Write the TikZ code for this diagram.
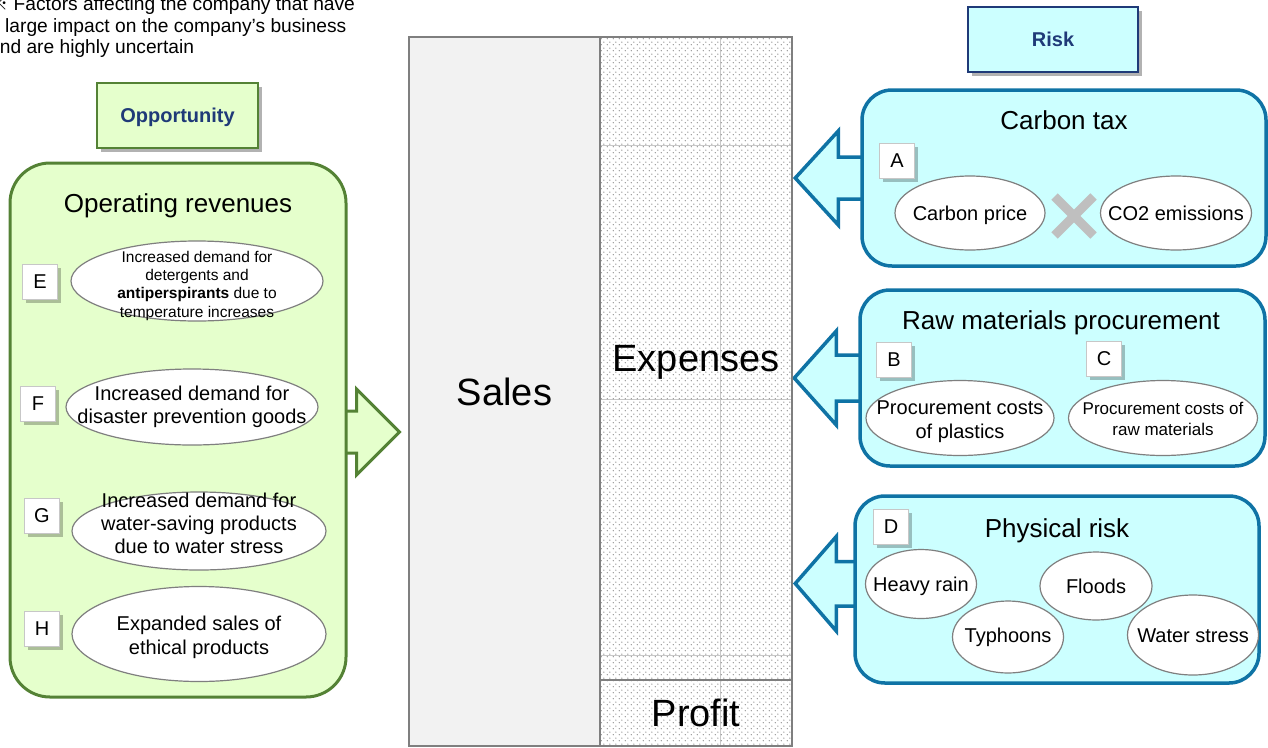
\documentclass[tikz,border=0pt]{standalone}
\usepackage{fontspec}
\setmainfont{Liberation Sans}
\newfontfamily\cjk{Noto Sans CJK JP}
\usepackage{tikz}
\usetikzlibrary{calc,positioning,shapes.geometric,shapes.misc,shadows,patterns.meta,backgrounds}

\definecolor{oppgreen}{HTML}{548235}
\definecolor{oppfill}{HTML}{E5FFCC}
\definecolor{riskblue}{HTML}{0F73A5}
\definecolor{riskfill}{HTML}{CCFFFF}
\definecolor{labelnavy}{HTML}{1F3A78}
\definecolor{colgray}{HTML}{7F7F7F}
\definecolor{gridgray}{HTML}{C8C8C8}
\definecolor{salesfill}{HTML}{F2F2F2}

\tikzdeclarepattern{
  name=expdots,
  type=uncolored,
  bottom left={(0pt,0pt)},
  top right={(6pt,6pt)},
  tile size={(6pt,6pt)},
  code={
    \fill (1.5pt,1.5pt) circle (0.75pt);
    \fill (4.5pt,4.5pt) circle (0.75pt);
  }
}

% text inside an ellipse, lowered by the optional amount
\newcommand{\bubbletext}[2][-8pt]{\makebox[0pt]{\smash{\raisebox{#1}{\begin{tabular}{@{}c@{}}#2\end{tabular}}}}}

\tikzset{
  fs/.style 2 args={font=\fontsize{#1}{#2}\selectfont},
  headbox/.style={rectangle, inner sep=0pt, minimum height=65pt, text=labelnavy, text depth=0pt,
    font=\bfseries\fontsize{20}{24}\selectfont,
    drop shadow={shadow xshift=4pt, shadow yshift=-4pt, fill=black, opacity=.3}},
  groupbox/.style={rectangle, rounded corners=#1, line width=3pt, inner sep=0pt},
  bubble/.style={ellipse, draw=colgray, line width=1.2pt, fill=white, inner sep=0pt},
  letterbox/.style={rectangle, draw=black!22, fill=white, line width=1pt, minimum size=35pt,
    inner sep=0pt, fs={20}{24},
    drop shadow={shadow xshift=3pt, shadow yshift=-3pt, fill=black, opacity=.25}},
  grouptitle/.style={fs={26}{31}, text depth=0pt},
  colbox/.style={rectangle, draw=colgray, line width=2.5pt, inner sep=0pt, fs={38}{45}},
  oppshape/.style={draw=oppgreen, fill=oppfill, line width=3pt, miter limit=10},
  riskshape/.style={draw=riskblue, fill=riskfill, line width=3.5pt, miter limit=10}
}

\begin{document}
\begin{tikzpicture}[x=1pt,y=-1pt]
  \useasboundingbox (0,0) rectangle (1268,747);

  % note in the corner
  \node (note) [anchor=west, align=left, inner sep=0pt, fs={19.2}{21.5}] at (-11,27)
    {{\cjk ※} Factors affecting the company that have\\a large impact on the company's business\\and are highly uncertain};

  % opportunity side
  \node (opp) [headbox, draw=oppgreen, fill=oppfill, line width=1.5pt, minimum width=161pt] at (177.5,115.5) {Opportunity};
  \node (oprev) [groupbox=40pt, draw=oppgreen, fill=oppfill, minimum width=336pt, minimum height=534pt] at (178,430) {};
  \node (oprevtitle) [grouptitle] at (178,203) {Operating revenues};

  \node (bubE) [bubble, minimum width=252pt, minimum height=80pt, fs={15.5}{18.3}] at (197,281)
    {\bubbletext[-8.5pt]{Increased demand for\\detergents and\\\textbf{antiperspirants} due to\\temperature increases}};
  \node (bubF) [bubble, minimum width=252pt, minimum height=76pt, fs={20}{23}] at (192,407)
    {\bubbletext[-6pt]{Increased demand for\\disaster prevention goods}};
  \node (bubG) [bubble, minimum width=254pt, minimum height=78pt, fs={20}{23}] at (199,531)
    {\bubbletext[0pt]{Increased demand for\\water-saving products\\due to water stress}};
  \node (bubH) [bubble, minimum width=254pt, minimum height=95pt, fs={20}{24}] at (199,634)
    {\bubbletext[-9pt]{Expanded sales of\\ethical products}};

  \node (letE) [letterbox] at (40,282) {E};
  \node (letF) [letterbox] at (38,404) {F};
  \node (letG) [letterbox] at (42,516) {G};
  \node (letH) [letterbox] at (42,629) {H};

  % income statement column
  \node (sales) [colbox, fill=salesfill, minimum width=191pt, minimum height=709pt] at (504.5,391.5) {Sales};
  \node (exp) [colbox, text depth=0pt, pattern=expdots, pattern color=black!50, minimum width=192pt, minimum height=643pt] at (696,358.5) {Expenses};
  \node (prof) [colbox, pattern=expdots, pattern color=black!50, minimum width=192pt, minimum height=66pt] at (696,713) {Profit};

  % risk side
  \node (risk) [headbox, draw=labelnavy, fill=riskfill, line width=1.5pt, minimum width=170pt] at (1053,39.5) {Risk};

  \node (ctax) [groupbox=30pt, draw=riskblue, fill=riskfill, line width=3.5pt, minimum width=404pt, minimum height=176pt] at (1064,178) {};
  \node (ctaxtitle) [grouptitle] at (1064,120) {Carbon tax};
  \node (cprice) [bubble, minimum width=150pt, minimum height=74pt, fs={20}{24}] at (970,213) {\bubbletext{Carbon price}};
  \node (coemis) [bubble, minimum width=151pt, minimum height=74pt, fs={20}{24}] at (1176,213) {\bubbletext{CO2 emissions}};
  \node (times) [cross out, draw=black!25, line width=9pt, minimum size=30pt, inner sep=0pt] at (1074,216) {};
  \node (letA) [letterbox] at (897,161) {A};

  \node (rawmat) [groupbox=30pt, draw=riskblue, fill=riskfill, line width=3.5pt, minimum width=405pt, minimum height=176pt] at (1062.5,378) {};
  \node (rawtitle) [grouptitle] at (1061,320) {Raw materials procurement};
  \node (bubplast) [bubble, minimum width=188pt, minimum height=75pt, fs={20}{24}] at (960,418)
    {\bubbletext[-8.5pt]{Procurement costs\\of plastics}};
  \node (bubraw) [bubble, minimum width=189pt, minimum height=75pt, fs={17}{21}] at (1163,418)
    {\bubbletext[-6.7pt]{Procurement costs of\\raw materials}};
  \node (letB) [letterbox] at (894,360) {B};
  \node (letC) [letterbox] at (1104,359) {C};

  \node (phys) [groupbox=30pt, draw=riskblue, fill=riskfill, line width=3.5pt, minimum width=404pt, minimum height=187pt] at (1057,589.5) {};
  \node (phystitle) [grouptitle] at (1057,528) {Physical risk};
  \node (rain) [bubble, minimum width=111pt, minimum height=69pt, fs={20}{24}] at (921,584) {\bubbletext{Heavy rain}};
  \node (typh) [bubble, minimum width=111pt, minimum height=72pt, fs={20}{24}] at (1008,637) {\bubbletext[-6pt]{Typhoons}};
  \node (flood) [bubble, minimum width=112pt, minimum height=68pt, fs={20}{24}] at (1096,586) {\bubbletext{Floods}};
  \node (wstress) [bubble, minimum width=131pt, minimum height=80pt, fs={20}{24}] at (1193,635) {\bubbletext{Water stress}};
  \node (letD) [letterbox] at (891,527) {D};

  \begin{scope}[on background layer]
    % grid inside the column
    \draw[gridgray, line width=1pt] (720,37) -- (720,746);
    \foreach \gy in {145,399,655}
      \draw[gridgray, line width=1pt] (600,\gy) -- (792,\gy);
    % block arrows
    \filldraw[oppshape] ($(oprev.east)+(-2,-19)$) -- ++(11,0) -- ++(0,-22) -- ($(oprev.east)+(52,2)$)
      -- ($(oprev.east)+(9,45)$) -- ++(0,-22) -- ++(-11,0);
    \filldraw[riskshape] ($(ctax.west)+(2,-21)$) -- ++(-24,0) -- ++(0,-26) -- ($(ctax.west)+(-65,0)$)
      -- ($(ctax.west)+(-22,47)$) -- ++(0,-26) -- ++(24,0);
    \filldraw[riskshape] ($(rawmat.west)+(2,-23)$) -- ++(-24,0) -- ++(0,-24) -- ($(rawmat.west)+(-64,0)$)
      -- ($(rawmat.west)+(-22,47)$) -- ++(0,-24) -- ++(24,0);
    \filldraw[riskshape] ($(phys.west)+(2,-28)$) -- ++(-19,0) -- ++(0,-25) -- ($(phys.west)+(-58,-6)$)
      -- ($(phys.west)+(-17,41.5)$) -- ++(0,-25) -- ++(19,0);
  \end{scope}
\end{tikzpicture}
\end{document}
